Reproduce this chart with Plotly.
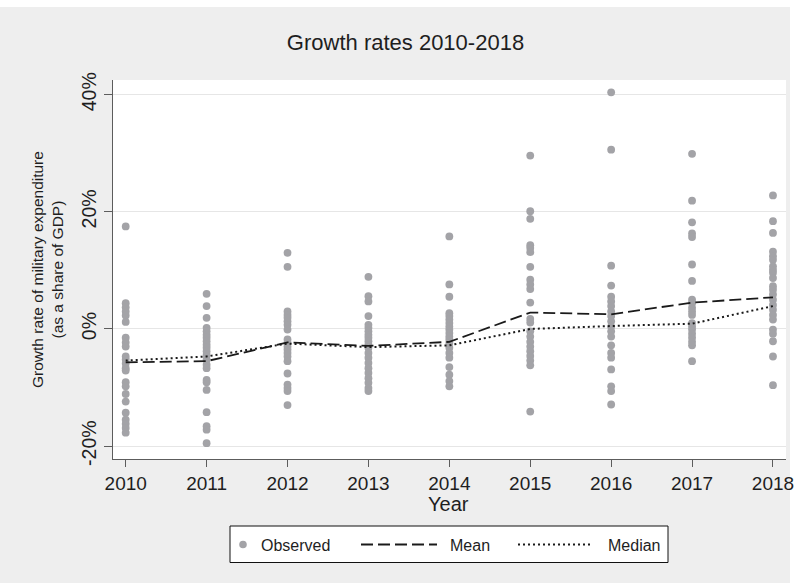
import plotly.graph_objects as go

# ---- data -------------------------------------------------------------
years = [2010, 2011, 2012, 2013, 2014, 2015, 2016, 2017, 2018]

obs_2010 = [17.5, 4.4, 3.7, 3.0, 2.3, 1.2, -1.5, -2.3, -3.0, -4.7, -5.2, -5.9,
            -6.7, -7.1, -9.1, -9.8, -11.1, -12.4, -14.3, -15.5, -16.2, -16.9, -17.7]
obs_2011 = [6.0, 3.9, 1.9, 0.2, -0.4, -1.0, -1.5, -2.1, -2.7, -3.2, -3.8, -4.4,
            -5.2, -6.1, -6.7, -8.7, -9.1, -10.4, -14.2, -16.6, -17.2, -19.5]
obs_2012 = [13.0, 10.6, 3.0, 2.4, 1.9, 1.3, 0.7, -0.1, -1.8, -2.4, -3.0, -3.5,
            -4.1, -4.7, -5.5, -7.6, -9.5, -10.1, -10.6, -13.0]
obs_2013 = [8.9, 5.6, 4.7, 2.2, 0.7, 0.2, -0.4, -1.0, -1.5, -2.1, -2.7, -3.2,
            -4.1, -4.9, -5.8, -6.7, -7.5, -8.4, -9.2, -10.1, -10.6]
obs_2014 = [15.8, 7.6, 5.5, 2.7, 2.2, 1.6, 1.0, 0.4, -0.1, -0.7, -1.3, -1.8,
            -2.4, -3.2, -4.1, -4.9, -6.5, -7.8, -8.9, -9.8]
obs_2015 = [29.6, 20.1, 18.8, 14.3, 13.8, 13.1, 10.6, 8.4, 7.6, 6.8, 4.5, 1.7,
            1.1, -0.4, -1.3, -2.2, -3.0, -3.8, -4.6, -5.4, -6.2, -14.1]
obs_2016 = [40.4, 30.6, 10.8, 7.4, 5.5, 4.7, 3.9, 3.0, 2.2, 1.3, 0.4, -0.4,
            -1.3, -2.8, -4.1, -4.9, -6.9, -9.8, -10.6, -12.9]
obs_2017 = [29.9, 21.9, 18.2, 16.3, 15.7, 11.0, 8.2, 5.0, 4.4, 3.6, 3.0, 2.4,
            1.0, 0.4, -0.1, -0.8, -1.5, -2.2, -2.8, -5.5]
obs_2018 = [22.8, 18.4, 16.4, 13.2, 12.4, 11.8, 10.7, 10.1, 9.6, 8.7, 7.3, 6.7,
            5.9, 5.0, 4.1, 3.3, 2.4, 1.6, -0.1, -0.8, -2.1, -4.7, -9.6]

mean_rate = [-5.7, -5.5, -2.3, -2.9, -2.2, 2.8, 2.5, 4.5, 5.4]
median_rate = [-5.4, -4.7, -2.5, -3.1, -2.8, 0.0, 0.5, 0.9, 3.9]

y_ticks = [-20, 0, 20, 40]
y_tick_labels = ["-20%", "0%", "20%", "40%"]

# ---- long form for the scatter ----------------------------------------
observed = [obs_2010, obs_2011, obs_2012, obs_2013, obs_2014,
            obs_2015, obs_2016, obs_2017, obs_2018]
obs_x, obs_y = [], []
for yr, vals in zip(years, observed):
    obs_x += [yr] * len(vals)
    obs_y += vals

# ---- styling ------------------------------------------------------------
FONT = "Liberation Sans, Arial, sans-serif"
TXT = "#1e1e1e"
BG = "#EEEEEE"
DOT = "#A3A3A7"
AXIS = "#5c5c5c"

W, H = 794, 583
L, R, T, B = 113, 786, 80, 459   # plot area in pixels
PW, PH = R - L, B - T


def px(x):
    return (x - L) / PW


def py(y):
    return (B - y) / PH


fig = go.Figure()

fig.add_trace(go.Scatter(
    x=obs_x, y=obs_y, mode="markers", name="Observed",
    marker=dict(color=DOT, size=7.8, line=dict(width=0)),
    showlegend=False,
))
fig.add_trace(go.Scatter(
    x=years, y=mean_rate, mode="lines", name="Mean",
    line=dict(color="#1a1a1a", width=1.8, dash="12px,5px"),
    showlegend=False,
))
fig.add_trace(go.Scatter(
    x=years, y=median_rate, mode="lines", name="Median",
    line=dict(color="#1a1a1a", width=2, dash="2px,3px"),
    showlegend=False,
))

shapes = [
    # white strips framing the grey graph region
    dict(type="rect", xref="paper", yref="paper", x0=px(0), x1=px(W), y0=py(7), y1=py(0),
         fillcolor="white", line=dict(width=0), layer="below"),
    dict(type="rect", xref="paper", yref="paper", x0=px(790), x1=px(W), y0=py(H), y1=py(0),
         fillcolor="white", line=dict(width=0), layer="below"),
    # legend box
    dict(type="rect", xref="paper", yref="paper", x0=px(230), x1=px(668),
         y0=py(562.5), y1=py(526), fillcolor="white", line=dict(color="#111111", width=1)),
    dict(type="circle", xref="paper", yref="paper", x0=px(239.2), x1=px(246.8),
         y0=py(548.3), y1=py(540.7), fillcolor=DOT, line=dict(width=0)),
    dict(type="line", xref="paper", yref="paper", x0=px(361), x1=px(437),
         y0=py(544.5), y1=py(544.5), line=dict(color="#1a1a1a", width=1.8, dash="12px,5px")),
    dict(type="line", xref="paper", yref="paper", x0=px(518), x1=px(592),
         y0=py(544.5), y1=py(544.5), line=dict(color="#1a1a1a", width=2, dash="2px,3px")),
]

annotations = [
    dict(text="Growth rate of military expenditure<br>(as a share of GDP)",
         xref="paper", yref="paper", x=px(47), y=py(270), textangle=-90,
         xanchor="center", yanchor="middle", showarrow=False,
         font=dict(family=FONT, size=15.5, color=TXT)),
    dict(text="Year", xref="paper", yref="paper", x=px(448.5), y=py(503.5),
         xanchor="center", yanchor="middle", showarrow=False,
         font=dict(family=FONT, size=20, color=TXT)),
    dict(text="Observed", xref="paper", yref="paper", x=px(259), y=py(545),
         xanchor="left", yanchor="middle", showarrow=False,
         font=dict(family=FONT, size=16, color=TXT)),
    dict(text="Mean", xref="paper", yref="paper", x=px(448), y=py(545),
         xanchor="left", yanchor="middle", showarrow=False,
         font=dict(family=FONT, size=16, color=TXT)),
    dict(text="Median", xref="paper", yref="paper", x=px(606), y=py(545),
         xanchor="left", yanchor="middle", showarrow=False,
         font=dict(family=FONT, size=16, color=TXT)),
]

fig.update_layout(
    width=W, height=H,
    margin=dict(l=L, r=W - R, t=T, b=H - B, pad=0, autoexpand=False),
    paper_bgcolor=BG, plot_bgcolor="white",
    font=dict(family=FONT, color=TXT),
    title=dict(text="Growth rates 2010-2018", xref="container", yref="container",
               x=405.5 / W, y=1 - 42 / H, xanchor="center", yanchor="middle",
               font=dict(family=FONT, size=22, color=TXT)),
    shapes=shapes, annotations=annotations, showlegend=False,
)

fig.update_xaxes(
    range=[2009.843, 2018.161], tickvals=years, ticktext=[str(y) for y in years],
    showgrid=False, zeroline=False, showline=True, linecolor=AXIS, linewidth=1.3,
    ticks="outside", ticklen=7, tickcolor=AXIS, tickwidth=1.3,
    tickfont=dict(family=FONT, size=19, color=TXT),
    automargin=False, ticklabeloverflow="allow",
)
fig.update_yaxes(
    range=[-22.2, 42.5], tickvals=y_ticks, ticktext=y_tick_labels, tickangle=-90,
    showgrid=True, gridcolor="#E6E6E6", gridwidth=1.2, zeroline=False,
    showline=True, linecolor=AXIS, linewidth=1.3,
    ticks="outside", ticklen=8, tickcolor=AXIS, tickwidth=1.3,
    tickfont=dict(family=FONT, size=19.5, color=TXT), automargin=False,
)

fig.write_html("out.html")
